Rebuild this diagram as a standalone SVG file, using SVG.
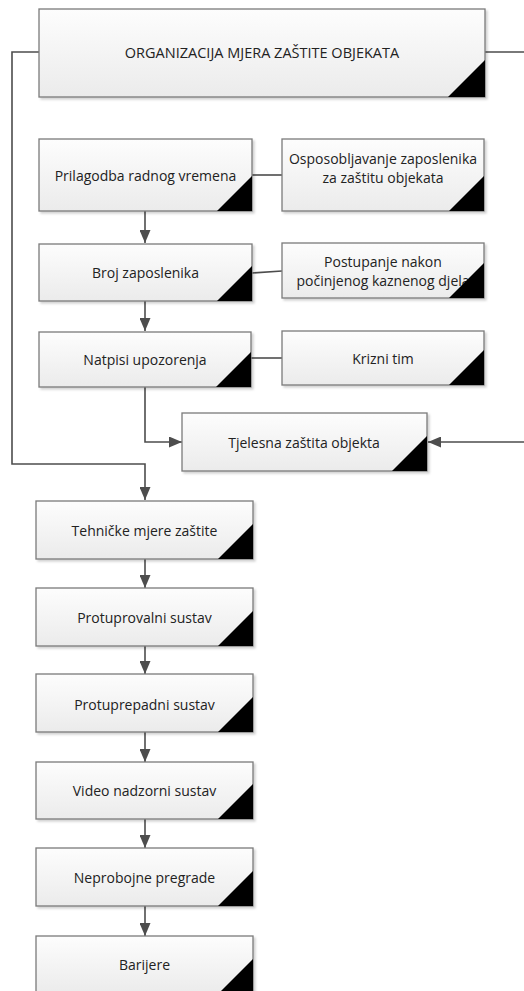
<svg xmlns="http://www.w3.org/2000/svg" width="524" height="991" viewBox="0 0 524 991">
<style>
  .box { fill: url(#g); stroke: #7a7a7a; stroke-width: 1.3; filter: url(#sh); }
  .tri { fill: #000; }
  .lbl { font-family: "Open Sans", "Noto Sans", sans-serif; font-size: 14px; fill: #222; text-anchor: middle; dominant-baseline: central; }
  .cap { font-size: 14.5px; }
  .con { fill: none; stroke: #4d4d4d; stroke-width: 1.6; }
  .arr { marker-end: url(#ah); }
</style>
<defs>
  <linearGradient id="g" x1="0" y1="0" x2="0" y2="1">
    <stop offset="0" stop-color="#fdfdfd"/>
    <stop offset="1" stop-color="#ebebeb"/>
  </linearGradient>
  <filter id="sh" x="-5%" y="-5%" width="115%" height="130%">
    <feDropShadow dx="2" dy="2" stdDeviation="1" flood-color="#000" flood-opacity="0.18"/>
  </filter>
  <marker id="ah" markerUnits="userSpaceOnUse" markerWidth="13" markerHeight="11" refX="13" refY="5.5" orient="auto">
    <path d="M0,0 L13,5.5 L0,11 z" fill="#4d4d4d"/>
  </marker>
</defs>

<g id="connectors">
  <path class="con arr" d="M39,52 H12 V464 H145 V500"/>
  <path class="con arr" d="M485,52 H528 V442 H428"/>
  <path class="con" d="M252,175 H282"/>
  <path class="con arr" d="M145,211 V243"/>
  <path class="con" d="M252,273 L282,271"/>
  <path class="con arr" d="M145,301 V331"/>
  <path class="con" d="M251,358 H282"/>
  <path class="con arr" d="M145,387 V442 H182"/>
  <path class="con arr" d="M145,559 V588"/>
  <path class="con arr" d="M145,646 V674"/>
  <path class="con arr" d="M145,732 V762"/>
  <path class="con arr" d="M145,819 V848"/>
  <path class="con arr" d="M145,906 V936"/>
</g>

<g id="n_org">
  <rect class="box" x="39" y="9" width="446" height="88"/>
  <text class="lbl cap" x="262" y="52">ORGANIZACIJA MJERA ZAŠTITE OBJEKATA</text>
  <path class="tri" d="M448,97 L485,60 L485,97 z"/>
</g>

<g id="n_prilagodba">
  <rect class="box" x="39" y="139" width="213" height="72"/>
  <text class="lbl" x="145.5" y="175">Prilagodba radnog vremena</text>
  <path class="tri" d="M217,211 L252,176 L252,211 z"/>
</g>

<g id="n_osposobljavanje">
  <rect class="box" x="282" y="139" width="202" height="72"/>
  <text class="lbl" x="383" y="158">Osposobljavanje zaposlenika</text>
  <text class="lbl" x="383" y="177">za zaštitu objekata</text>
  <path class="tri" d="M449,211 L484,176 L484,211 z"/>
</g>

<g id="n_broj">
  <rect class="box" x="39" y="244" width="213" height="57"/>
  <text class="lbl" x="145.5" y="272">Broj zaposlenika</text>
  <path class="tri" d="M217,301 L252,266 L252,301 z"/>
</g>

<g id="n_postupanje">
  <rect class="box" x="282" y="243" width="202" height="55"/>
  <text class="lbl" x="383" y="261">Postupanje nakon</text>
  <text class="lbl" x="383" y="280">počinjenog kaznenog djela</text>
  <path class="tri" d="M449,298 L484,263 L484,298 z"/>
</g>

<g id="n_natpisi">
  <rect class="box" x="39" y="332" width="212" height="55"/>
  <text class="lbl" x="145" y="359">Natpisi upozorenja</text>
  <path class="tri" d="M216,387 L251,352 L251,387 z"/>
</g>

<g id="n_krizni">
  <rect class="box" x="282" y="331" width="202" height="54"/>
  <text class="lbl" x="383" y="358">Krizni tim</text>
  <path class="tri" d="M449,385 L484,350 L484,385 z"/>
</g>

<g id="n_tjelesna">
  <rect class="box" x="182" y="413" width="245" height="58"/>
  <text class="lbl" x="304" y="442">Tjelesna zaštita objekta</text>
  <path class="tri" d="M392,471 L427,436 L427,471 z"/>
</g>

<g id="n_tehnicke">
  <rect class="box" x="36" y="501" width="217" height="58"/>
  <text class="lbl" x="144.5" y="530">Tehničke mjere zaštite</text>
  <path class="tri" d="M218,559 L253,524 L253,559 z"/>
</g>

<g id="n_protuprovalni">
  <rect class="box" x="36" y="588" width="217" height="58"/>
  <text class="lbl" x="144.5" y="617">Protuprovalni sustav</text>
  <path class="tri" d="M218,646 L253,611 L253,646 z"/>
</g>

<g id="n_protuprepadni">
  <rect class="box" x="36" y="674" width="217" height="58"/>
  <text class="lbl" x="144.5" y="704">Protuprepadni sustav</text>
  <path class="tri" d="M218,732 L253,697 L253,732 z"/>
</g>

<g id="n_video">
  <rect class="box" x="36" y="762" width="217" height="57"/>
  <text class="lbl" x="144.5" y="790">Video nadzorni sustav</text>
  <path class="tri" d="M218,819 L253,784 L253,819 z"/>
</g>

<g id="n_neprobojne">
  <rect class="box" x="36" y="848" width="217" height="58"/>
  <text class="lbl" x="144.5" y="877">Neprobojne pregrade</text>
  <path class="tri" d="M218,906 L253,871 L253,906 z"/>
</g>

<g id="n_barijere">
  <rect class="box" x="36" y="936" width="217" height="58"/>
  <text class="lbl" x="144.5" y="964">Barijere</text>
  <path class="tri" d="M218,994 L253,959 L253,994 z"/>
</g>
</svg>
